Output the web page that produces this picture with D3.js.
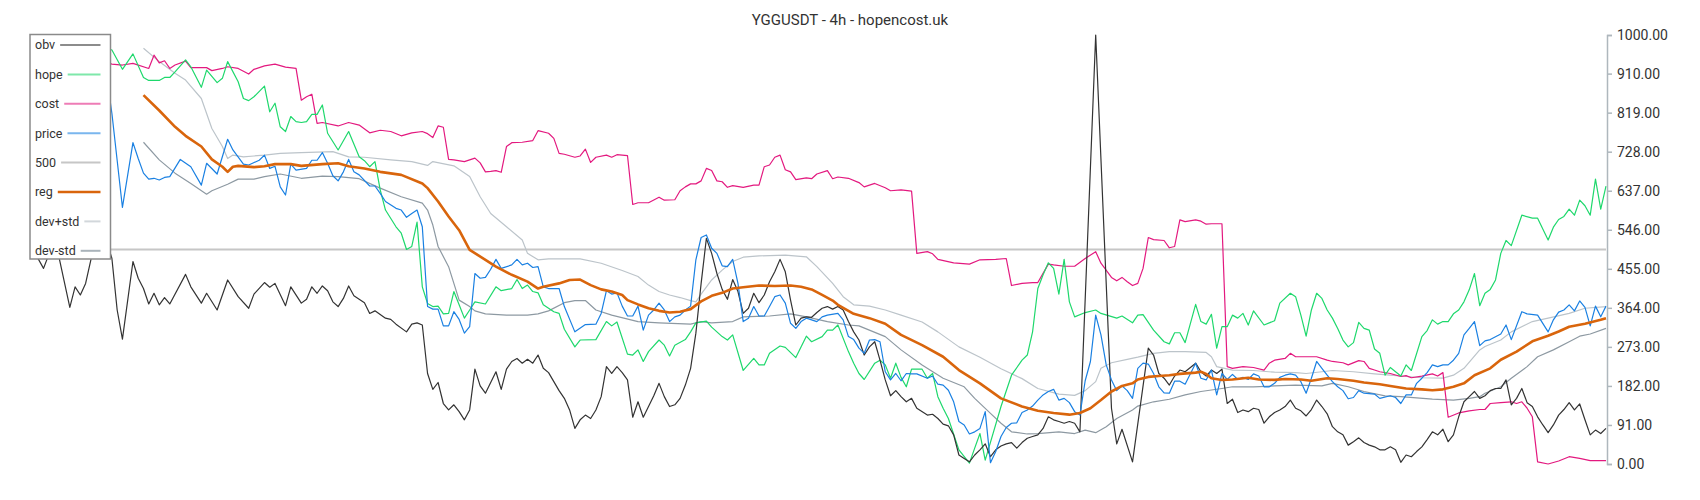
<!DOCTYPE html>
<html>
<head>
<meta charset="utf-8">
<script src="https://cdn.jsdelivr.net/npm/d3@7"></script>
<style>
  body { margin: 0; background: #fff; }
  svg text { font-family: Roboto, "Noto Sans", sans-serif; }
</style>
</head>
<body>
<div id="chart"></div>
<script>
// candle index 0..299, each series as [index, value]
const nBars = 300;
const level500 = 500;
const yTicks = [0, 91, 182, 273, 364, 455, 546, 637, 728, 819, 910, 1000];

const obvPts = [[0,500],[2,456],[4,520],[5,479],[7,365],[8,413],[9,394],[10,421],[11,476],[12,540],[13,560],[15,479],[16,359],[17,291],[19,472],[20,433],[21,409],[22,373],[23,398],[24,371],[25,388],[26,373],[29,442],[30,413],[32,375],[33,398],[35,359],[37,429],[39,390],[41,363],[42,396],[44,423],[45,412],[46,421],[48,369],[49,413],[51,375],[52,384],[53,413],[54,398],[55,415],[56,404],[57,378],[58,367],[59,386],[60,415],[61,392],[63,376],[64,351],[65,357],[67,340],[68,337],[69,326],[71,308],[72,326],[73,329],[74,324],[75,211],[76,174],[77,190],[78,141],[79,126],[80,138],[81,122],[82,103],[83,126],[84,221],[85,182],[86,165],[88,215],[89,174],[90,221],[91,239],[92,246],[93,235],[94,244],[95,235],[96,254],[97,223],[98,213],[99,192],[100,171],[101,153],[102,126],[103,83],[104,103],[105,114],[106,106],[107,126],[108,157],[109,227],[110,211],[111,227],[112,213],[113,196],[114,109],[115,145],[116,109],[117,134],[118,159],[119,188],[120,157],[121,134],[122,138],[123,153],[124,184],[125,223],[126,305],[127,421],[128,526],[129,491],[130,444],[131,407],[132,384],[133,430],[134,402],[135,351],[136,363],[137,398],[138,376],[139,394],[140,425],[141,448],[142,477],[143,448],[144,382],[145,324],[146,340],[147,343],[148,342],[149,353],[150,363],[151,367],[152,361],[153,367],[154,359],[155,332],[156,308],[157,289],[158,254],[159,273],[160,285],[161,242],[162,196],[163,159],[164,171],[165,157],[166,145],[167,153],[168,130],[170,114],[171,116],[172,106],[173,93],[174,89],[175,68],[176,21],[177,13],[178,5],[179,21],[180,33],[181,47],[182,17],[183,33],[184,42],[185,47],[186,50],[187,37],[188,50],[189,60],[190,64],[191,68],[192,83],[193,110],[194,103],[195,99],[196,95],[197,99],[198,95],[199,75],[202,1000],[205,130],[206,47],[207,81],[209,5],[212,270],[213,254],[214,211],[215,200],[216,184],[217,205],[218,219],[219,215],[221,235],[222,215],[223,205],[224,219],[225,211],[226,221],[227,141],[228,151],[229,120],[230,126],[231,122],[232,130],[233,127],[234,95],[235,110],[236,120],[237,126],[238,134],[239,149],[240,130],[241,124],[242,112],[243,127],[244,149],[245,134],[246,117],[247,87],[248,75],[249,68],[250,44],[251,52],[252,61],[253,50],[254,44],[255,40],[256,33],[257,33],[258,40],[259,33],[260,4],[261,21],[262,17],[263,29],[264,40],[265,57],[266,75],[267,68],[268,81],[269,52],[270,68],[271,110],[272,145],[273,157],[274,169],[275,153],[276,159],[277,171],[278,176],[279,176],[280,196],[281,138],[282,153],[283,176],[284,143],[285,134],[286,110],[287,91],[288,73],[289,91],[290,114],[291,127],[292,143],[293,126],[294,140],[295,103],[296,68],[297,79],[298,71],[299,83]];

const hopePts = [[0,960],[2,985],[4,970],[6,992],[8,975],[10,960],[12,1000],[13,975],[15,965],[17,920],[19,956],[21,901],[22,894],[24,894],[25,901],[26,901],[27,914],[29,942],[30,926],[32,878],[33,918],[35,889],[36,899],[37,938],[39,891],[40,852],[41,847],[42,856],[44,881],[45,821],[46,841],[47,786],[48,775],[49,810],[50,798],[51,796],[52,798],[53,815],[54,815],[55,837],[56,771],[58,732],[60,775],[62,716],[63,707],[64,693],[65,705],[66,639],[67,592],[69,553],[70,538],[71,500],[72,507],[73,564],[74,413],[75,374],[76,367],[77,368],[78,350],[79,351],[80,402],[81,371],[82,340],[83,359],[84,378],[86,373],[88,413],[89,404],[91,409],[92,430],[93,409],[94,417],[95,402],[96,399],[97,371],[99,355],[100,351],[101,314],[103,273],[104,289],[107,290],[109,332],[110,322],[111,331],[113,256],[114,254],[115,266],[116,239],[117,262],[119,289],[120,277],[121,252],[122,277],[124,290],[125,308],[126,329],[128,333],[129,319],[131,297],[132,289],[133,301],[135,218],[137,246],[138,231],[139,231],[140,258],[142,275],[143,272],[145,248],[147,298],[148,285],[150,297],[151,312],[152,312],[153,324],[155,262],[156,235],[157,211],[158,197],[160,235],[161,242],[162,231],[163,200],[164,235],[165,202],[166,180],[167,221],[169,221],[170,200],[171,211],[172,157],[173,130],[174,106],[176,33],[178,2],[179,37],[180,71],[181,9],[184,134],[186,207],[188,242],[189,254],[190,308],[191,409],[192,441],[193,469],[194,456],[195,396],[196,477],[197,378],[198,343],[200,353],[202,359],[203,351],[206,340],[207,345],[209,329],[210,347],[211,348],[213,312],[215,285],[216,280],[217,306],[218,306],[219,283],[221,372],[222,332],[223,326],[224,349],[225,270],[226,320],[227,320],[228,347],[229,340],[230,351],[231,324],[232,357],[234,324],[236,334],[237,375],[239,398],[240,390],[241,347],[242,298],[243,359],[244,398],[245,386],[246,359],[247,340],[248,316],[249,289],[250,273],[251,283],[252,330],[253,316],[254,312],[255,268],[256,258],[257,207],[258,225],[260,205],[261,231],[262,218],[264,297],[265,311],[266,336],[267,326],[268,332],[269,332],[270,350],[271,359],[272,378],[273,406],[274,444],[275,369],[276,398],[277,407],[278,429],[279,491],[280,521],[281,509],[283,580],[285,573],[286,573],[288,522],[289,552],[290,570],[291,577],[292,594],[293,580],[294,615],[295,602],[296,580],[297,664],[298,594],[299,648]];

const costPts = [[0,945],[2,960],[5,1000],[7,965],[10,950],[13,940],[15,932],[17,930],[19,934],[22,922],[23,953],[24,935],[25,940],[26,922],[27,930],[29,939],[30,924],[33,924],[34,917],[36,922],[37,926],[39,922],[41,909],[42,920],[44,928],[46,932],[48,925],[50,922],[51,848],[52,856],[53,862],[54,794],[55,796],[58,788],[60,796],[62,790],[64,772],[66,778],[68,775],[70,765],[72,772],[74,775],[75,770],[76,761],[77,788],[78,785],[79,710],[80,709],[82,705],[84,713],[85,702],[86,681],[87,682],[88,684],[89,680],[90,740],[91,749],[93,750],[95,754],[96,777],[98,771],[99,759],[100,724],[101,722],[103,715],[104,718],[105,734],[106,703],[107,715],[109,720],[110,715],[111,721],[113,719],[114,605],[115,609],[117,609],[119,622],[120,615],[122,616],[123,637],[124,646],[125,653],[126,653],[127,660],[128,689],[129,684],[130,660],[131,658],[132,645],[133,649],[135,645],[137,650],[138,650],[139,693],[140,697],[141,715],[142,720],[143,686],[144,681],[145,663],[147,667],[148,665],[149,676],[151,684],[152,665],[153,669],[155,666],[157,656],[158,646],[160,654],[162,644],[163,637],[165,639],[167,636],[168,491],[170,495],[171,490],[172,477],[175,469],[178,466],[180,476],[183,477],[185,479],[186,416],[188,421],[190,423],[191,423],[193,466],[194,464],[196,461],[198,461],[200,479],[202,495],[203,468],[205,435],[206,427],[207,435],[208,425],[209,416],[210,421],[211,456],[212,528],[213,523],[215,521],[216,504],[217,507],[218,569],[219,565],[221,569],[222,566],[223,559],[224,560],[226,560],[227,227],[228,223],[230,227],[232,225],[234,219],[235,235],[236,242],[238,246],[239,258],[240,250],[242,250],[244,250],[246,242],[247,239],[249,236],[250,231],[252,241],[253,239],[254,223],[255,219],[256,215],[258,211],[260,204],[261,206],[262,201],[264,205],[266,210],[267,205],[268,213],[269,109],[271,119],[273,124],[275,127],[276,127],[277,141],[279,143],[281,145],[282,141],[283,145],[284,130],[285,110],[286,5],[288,0],[290,7],[292,17],[294,13],[296,8],[299,8]];

const pricePts = [[0,900],[2,930],[4,890],[6,910],[8,880],[10,900],[12,870],[14,905],[15,817],[17,598],[19,749],[20,712],[21,678],[22,664],[23,666],[24,662],[25,668],[26,670],[28,710],[30,693],[32,650],[33,701],[35,676],[37,757],[38,732],[40,699],[41,697],[43,708],[44,720],[45,689],[46,694],[47,646],[48,627],[49,699],[50,685],[52,689],[53,708],[54,708],[55,726],[56,701],[57,672],[58,660],[59,681],[60,710],[61,681],[62,674],[64,648],[65,648],[66,631],[67,612],[69,596],[70,592],[71,575],[72,584],[73,592],[74,553],[75,367],[76,361],[77,361],[78,322],[79,322],[80,355],[81,337],[82,305],[83,320],[84,444],[85,433],[86,435],[87,454],[88,477],[89,456],[91,464],[92,477],[93,464],[94,468],[95,458],[96,460],[97,413],[98,409],[100,409],[101,367],[103,308],[105,325],[107,326],[108,351],[109,404],[110,396],[111,399],[112,368],[113,345],[114,345],[115,368],[116,312],[117,347],[118,359],[119,375],[120,359],[121,332],[122,343],[123,347],[124,359],[125,368],[126,476],[127,528],[128,534],[129,503],[130,491],[131,462],[132,460],[133,477],[134,421],[135,332],[136,340],[137,367],[138,345],[139,345],[140,367],[141,390],[142,394],[143,375],[144,328],[145,316],[146,332],[147,340],[149,332],[150,343],[151,347],[153,351],[154,336],[155,297],[156,290],[157,270],[158,258],[159,289],[160,290],[161,285],[162,215],[163,196],[164,211],[165,194],[166,211],[167,210],[168,210],[170,200],[171,205],[172,186],[173,184],[174,172],[175,145],[176,99],[177,91],[178,70],[179,75],[180,83],[181,122],[182,3],[183,29],[184,64],[185,85],[186,95],[187,96],[188,120],[189,126],[190,135],[191,149],[192,161],[193,169],[194,174],[195,149],[196,153],[197,143],[198,122],[199,114],[200,194],[201,239],[202,347],[203,301],[204,231],[205,196],[206,171],[207,182],[208,171],[209,153],[210,223],[211,235],[212,233],[213,211],[214,180],[215,166],[216,165],[217,193],[218,193],[219,186],[221,235],[222,200],[223,196],[224,219],[225,161],[226,211],[227,197],[228,209],[229,197],[230,202],[231,197],[232,210],[233,205],[234,180],[235,180],[236,188],[237,202],[238,207],[239,210],[240,207],[241,192],[242,165],[243,200],[244,239],[245,223],[246,207],[247,192],[248,180],[249,171],[250,152],[251,155],[252,171],[253,165],[255,163],[256,153],[258,159],[259,155],[260,141],[261,161],[262,161],[263,188],[264,200],[265,213],[266,231],[267,227],[268,231],[269,231],[270,242],[271,258],[272,301],[273,316],[274,332],[275,276],[276,287],[277,290],[279,303],[280,324],[281,290],[283,355],[284,350],[286,347],[288,308],[289,336],[290,354],[291,359],[292,371],[293,357],[294,380],[295,365],[296,322],[297,368],[298,343],[299,368]];

const regPts = [[21,860],[24,824],[27,786],[29,765],[32,740],[34,710],[36,693],[37,681],[38,693],[39,695],[42,692],[44,694],[46,699],[49,699],[51,695],[55,699],[58,701],[60,694],[63,689],[66,681],[70,674],[74,654],[75,643],[77,612],[79,577],[81,545],[83,499],[86,476],[88,460],[91,441],[94,425],[96,409],[97,413],[100,421],[102,429],[104,430],[106,417],[108,407],[110,402],[112,394],[113,382],[115,372],[117,363],[119,357],[121,353],[123,355],[125,361],[127,379],[129,392],[131,399],[133,409],[135,412],[138,416],[141,415],[144,416],[146,413],[148,407],[150,394],[152,381],[153,371],[156,350],[159,340],[162,327],[165,301],[169,277],[173,250],[176,219],[180,188],[184,153],[188,134],[191,124],[194,119],[197,115],[199,119],[201,130],[203,149],[205,169],[207,182],[209,188],[210,197],[212,203],[214,205],[216,207],[218,210],[221,213],[222,215],[223,210],[224,200],[226,196],[228,197],[231,201],[233,197],[236,196],[238,198],[241,197],[243,194],[246,200],[248,198],[251,194],[253,190],[256,186],[258,182],[261,176],[264,174],[266,172],[268,174],[270,180],[272,188],[274,207],[277,223],[279,243],[282,262],[285,286],[288,299],[290,309],[292,320],[295,327],[298,336],[299,340]];

const devUpPts = [[21,969],[24,938],[27,911],[29,895],[32,852],[34,782],[36,740],[37,712],[38,720],[40,716],[42,718],[44,720],[47,724],[51,726],[57,728],[60,716],[63,715],[68,709],[72,705],[75,696],[76,705],[80,695],[83,670],[85,623],[87,584],[90,553],[93,522],[94,491],[96,476],[98,478],[104,478],[108,468],[112,451],[115,437],[117,417],[119,402],[121,394],[123,388],[125,381],[126,378],[127,396],[129,429],[131,452],[133,472],[135,482],[138,485],[143,487],[147,483],[149,460],[152,421],[154,390],[156,371],[159,368],[162,359],[165,347],[169,331],[172,308],[176,273],[180,249],[184,222],[188,199],[191,176],[195,163],[198,160],[200,171],[202,192],[203,223],[205,236],[208,244],[210,249],[213,258],[216,262],[219,262],[223,260],[224,250],[225,227],[228,219],[232,218],[236,214],[240,213],[242,211],[245,215],[247,218],[251,215],[255,210],[258,207],[264,201],[268,200],[270,207],[272,223],[275,266],[276,274],[279,289],[281,308],[285,332],[288,340],[292,351],[295,363],[299,367]];

const devDnPts = [[21,750],[24,709],[27,678],[30,654],[33,629],[34,637],[37,652],[39,664],[42,664],[44,670],[47,676],[51,666],[55,671],[58,670],[62,665],[66,643],[70,623],[74,608],[75,592],[76,557],[77,507],[79,460],[80,421],[81,382],[83,367],[84,357],[86,350],[90,347],[94,347],[96,350],[98,357],[101,376],[103,381],[105,381],[107,359],[110,347],[115,332],[119,329],[125,326],[127,332],[129,329],[133,332],[135,343],[140,345],[144,350],[147,343],[151,332],[155,324],[157,322],[162,297],[165,266],[169,231],[173,200],[177,180],[179,153],[182,118],[184,95],[186,75],[189,70],[191,71],[195,75],[198,71],[200,79],[202,73],[204,87],[206,106],[209,126],[210,135],[213,145],[216,151],[219,161],[222,169],[226,176],[228,180],[232,180],[236,182],[240,184],[245,182],[247,188],[250,180],[253,169],[257,159],[260,157],[266,151],[270,149],[273,153],[275,157],[276,165],[279,180],[281,200],[284,227],[286,250],[289,266],[292,285],[294,298],[296,303],[299,316]];

const width = 1700, height = 500;

const svg = d3.select("#chart")
    .append("svg")
    .attr("width", width)
    .attr("height", height);

const x = d3.scaleLinear().domain([0, nBars - 1]).range([33, 1606]);
const y = d3.scaleLinear().domain([0, 1000]).range([464, 35]);

const line = d3.line()
    .x(function (d) { return x(d[0]); })
    .y(function (d) { return y(d[1]); });

// name, points, line colour, width, legend colour
const series = [
    { name: "obv", pts: obvPts, color: "#333333", w: 1.2, key: "#8c8c8c" },
    { name: "hope", pts: hopePts, color: "#1ed86c", w: 1.2, key: "#7ee8aa" },
    { name: "cost", pts: costPts, color: "#e3197f", w: 1.2, key: "#ee7cb6" },
    { name: "price", pts: pricePts, color: "#1a80e2", w: 1.2, key: "#7ab6ee" },
    { name: "500", pts: [[0, level500], [nBars - 1, level500]], color: "#c6c6c6", w: 2, key: "#c6c6c6" },
    { name: "reg", pts: regPts, color: "#d9650c", w: 2.6, key: "#d9650c" },
    { name: "dev+std", pts: devUpPts, color: "#bcc4ca", w: 1.2, key: "#d2d7db" },
    { name: "dev-std", pts: devDnPts, color: "#8d99a2", w: 1.2, key: "#a9b3ba" }
];

// draw order: background lines first
const drawOrder = ["500", "dev+std", "dev-std", "cost", "hope", "obv", "price", "reg"];
drawOrder.forEach(function (n) {
    const s = series.find(function (d) { return d.name === n; });
    svg.append("path")
        .datum(s.pts)
        .attr("fill", "none")
        .attr("stroke", s.color)
        .attr("stroke-width", s.w)
        .attr("stroke-linejoin", "round")
        .attr("d", line);
});

// right axis
const yAxis = svg.append("g")
    .attr("transform", "translate(1607,0)")
    .call(d3.axisRight(y).tickValues(yTicks).tickFormat(d3.format(".2f")).tickSize(5).tickPadding(5));
yAxis.select(".domain").attr("stroke", "#aeb7bd").attr("stroke-width", 1.5);
yAxis.selectAll(".tick line").attr("stroke", "#aeb7bd").attr("stroke-width", 1.5);
yAxis.selectAll(".tick text")
    .attr("fill", "#333")
    .style("font-size", "14px")
    .style("font-family", "Roboto, sans-serif");

// title
svg.append("text")
    .attr("x", width / 2)
    .attr("y", 25)
    .style("text-anchor", "middle")
    .style("font-size", "15px")
    .attr("fill", "#333")
    .text("YGGUSDT - 4h - hopencost.uk");

// legend box (white, covers the lines behind it)
const legend = svg.append("g");
legend.append("rect")
    .attr("x", 30)
    .attr("y", 34.5)
    .attr("width", 80.5)
    .attr("height", 224.5)
    .attr("fill", "#fff")
    .attr("stroke", "#8a8a8a")
    .attr("stroke-width", 1.5);

series.forEach(function (s, i) {
    const yy = 45 + i * 29.4;
    const t = legend.append("text")
        .attr("x", 35)
        .attr("y", yy)
        .attr("dy", "0.35em")
        .style("font-size", "12.5px")
        .attr("fill", "#333")
        .text(s.name);
    const tw = t.node().getComputedTextLength();
    legend.append("line")
        .attr("x1", 35 + tw + 5)
        .attr("x2", 100.5)
        .attr("y1", yy)
        .attr("y2", yy)
        .attr("stroke", s.key)
        .attr("stroke-width", s.name === "reg" ? 2.6 : 2);
});
</script>
</body>
</html>
